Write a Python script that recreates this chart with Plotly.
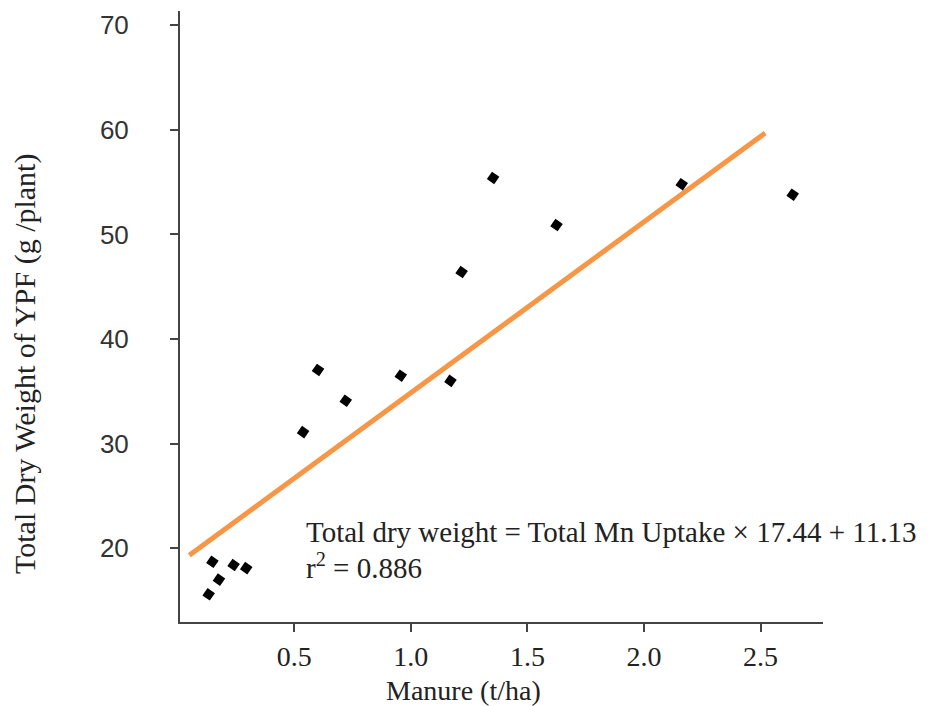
import plotly.graph_objects as go

manure = [0.133, 0.149, 0.177, 0.240, 0.294, 0.538, 0.602, 0.721, 0.957, 1.170,
          1.218, 1.353, 1.625, 2.162, 2.638]
dry_weight = [15.6, 18.7, 17.0, 18.4, 18.1, 31.1, 37.05, 34.1, 36.5, 36.0,
              46.4, 55.4, 50.9, 54.8, 53.8]

fit_x = [0.05, 2.52]
fit_y = [19.33, 59.7]

x_ticks = [0.5, 1.0, 1.5, 2.0, 2.5]
x_tick_labels = ["0.5", "1.0", "1.5", "2.0", "2.5"]
y_ticks = [20, 30, 40, 50, 60, 70]
y_tick_labels = ["20", "30", "40", "50", "60", "70"]

serif = "Liberation Serif"

fig = go.Figure()
fig.add_trace(go.Scatter(
    x=fit_x, y=fit_y, mode="lines",
    line=dict(color="#F79646", width=5),
    showlegend=False, hoverinfo="skip"))
fig.add_trace(go.Scatter(
    x=manure, y=dry_weight, mode="markers",
    marker=dict(symbol="square", size=9, color="black", angle=35,
                line=dict(width=0)),
    showlegend=False))

fig.update_layout(
    width=937, height=706,
    margin=dict(l=180, r=114, t=11, b=84),
    paper_bgcolor="white", plot_bgcolor="white",
    xaxis=dict(range=[0.01, 2.768], tickvals=x_ticks, ticktext=x_tick_labels,
               showgrid=False, zeroline=False, showline=True, linecolor="#444",
               linewidth=2, ticks="outside", ticklen=8, tickwidth=2, tickcolor="#444",
               tickfont=dict(family=serif, size=28, color="#222")),
    yaxis=dict(range=[12.95, 71.36], tickvals=y_ticks, ticktext=y_tick_labels,
               showgrid=False, zeroline=False, showline=True, linecolor="#444",
               linewidth=2, ticks="outside", ticklen=8, tickwidth=2, tickcolor="#444",
               ticklabelstandoff=36,
               tickfont=dict(family="Liberation Sans", size=26, color="#333")),
)

pw = 937 - 180 - 114
ph = 706 - 11 - 84


def px_x(p):
    return (p - 180) / pw


def px_y(p):
    return (622 - p) / ph


fig.add_annotation(text="Manure (t/ha)", x=px_x(463), y=px_y(690),
                   xref="paper", yref="paper", showarrow=False,
                   xanchor="center", yanchor="middle",
                   font=dict(family=serif, size=28, color="#222"))
fig.add_annotation(
    text="Total dry weight = Total Mn Uptake × 17.44 + 11.13",
    x=px_x(304), y=px_y(532), xref="paper", yref="paper", showarrow=False,
    xanchor="left", yanchor="middle",
    font=dict(family=serif, size=29, color="#222"))
fig.add_annotation(
    text="r<sup>2</sup> = 0.886",
    x=px_x(304), y=px_y(566), xref="paper", yref="paper", showarrow=False,
    xanchor="left", yanchor="middle",
    font=dict(family=serif, size=29, color="#222"))
fig.add_annotation(
    text="Total Dry Weight of YPF (g /plant)", textangle=-90,
    x=px_x(25), y=px_y(364), xref="paper", yref="paper", showarrow=False,
    xanchor="center", yanchor="middle",
    font=dict(family=serif, size=30, color="#222"))

fig.write_html("out.html")
